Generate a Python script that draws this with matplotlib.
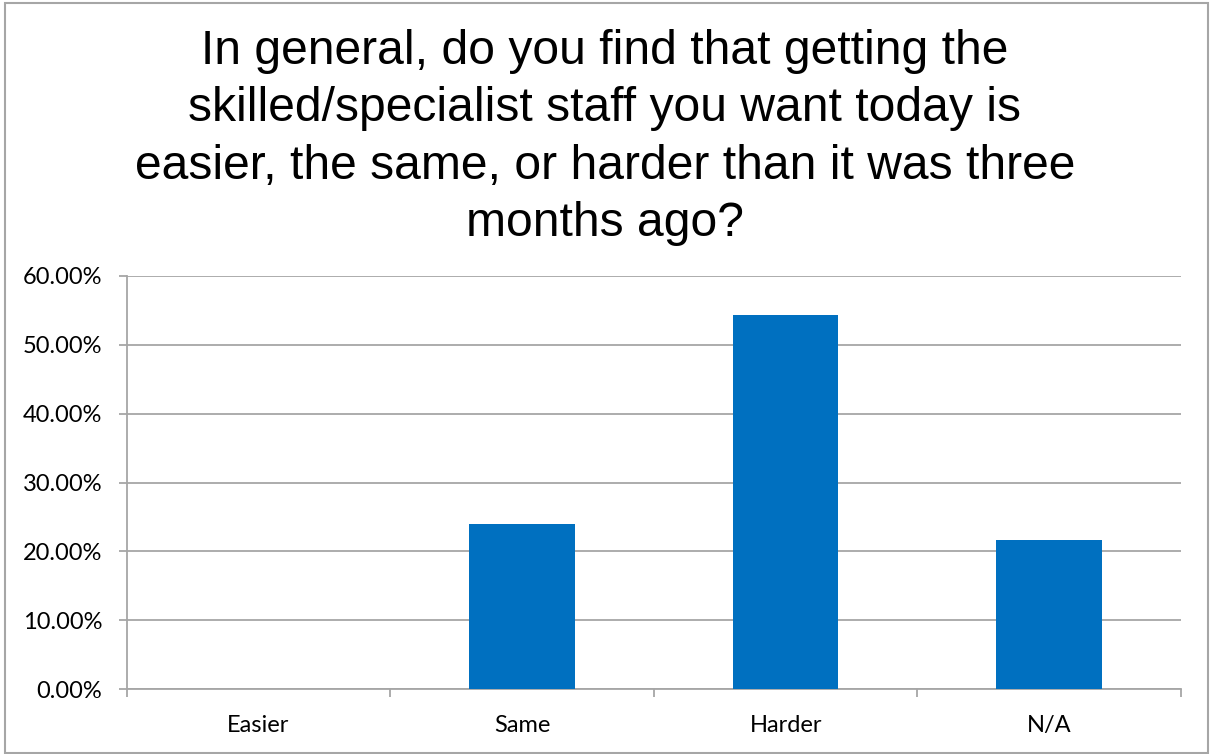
import matplotlib
matplotlib.use("Agg")
import matplotlib.pyplot as plt
from matplotlib.patches import Rectangle
from matplotlib.ticker import FuncFormatter, FixedLocator

categories = ["Easier", "Same", "Harder", "N/A"]
shares = [0.0, 23.9, 54.3, 21.7]  # percent of respondents
y_ticks = [0, 10, 20, 30, 40, 50, 60]

title = ("In general, do you find that getting the\n"
         "skilled/specialist staff you want today is\n"
         "easier, the same, or harder than it was three\n"
         "months ago?")

W, H, DPI = 1210, 754, 100
fig = plt.figure(figsize=(W / DPI, H / DPI), dpi=DPI)
fig.patch.set_facecolor("white")

# outer chart border
fig.add_artist(Rectangle((5 / W, 1 / H), 1203 / W, 750 / H, transform=fig.transFigure,
                         fill=False, edgecolor="#A6A6A6", linewidth=1.5))

ax = fig.add_axes([126.7 / W, (H - 689) / H, (1181 - 126.7) / W, (689 - 276) / H])

x = range(len(categories))
ax.bar(x, shares, width=0.4, color="#0070C0", zorder=3)

ax.set_xlim(-0.5, len(categories) - 0.5)
ax.set_ylim(0, 60)
ax.set_yticks(y_ticks)
ax.yaxis.set_major_formatter(FuncFormatter(lambda v, _: f"{v:.2f}%"))
ax.grid(axis="y", color="#A6A6A6", linewidth=1.3, zorder=0)

ax.set_xticks(list(x))
ax.set_xticklabels(categories)
ax.xaxis.set_minor_locator(FixedLocator([i - 0.5 for i in range(len(categories) + 1)]))
ax.tick_params(axis="x", which="major", length=0, pad=19)
ax.tick_params(axis="x", which="minor", length=6, width=1.3, color="#A6A6A6")
ax.tick_params(axis="y", length=5.5, width=1.3, color="#A6A6A6", pad=12)

for lab in ax.get_xticklabels() + ax.get_yticklabels():
    lab.set_fontfamily("Lato")
    lab.set_fontsize(17)
    lab.set_color("#000000")

for side in ("top", "right"):
    ax.spines[side].set_visible(False)
for side in ("left", "bottom"):
    ax.spines[side].set_color("#A6A6A6")
    ax.spines[side].set_linewidth(1.3)

fig.text(0.5, 1 - 29 / H, title, ha="center", va="top", fontsize=34.6,
         family="Liberation Sans", linespacing=1.355, color="#000000")

fig.savefig("out.png", dpi=DPI)
